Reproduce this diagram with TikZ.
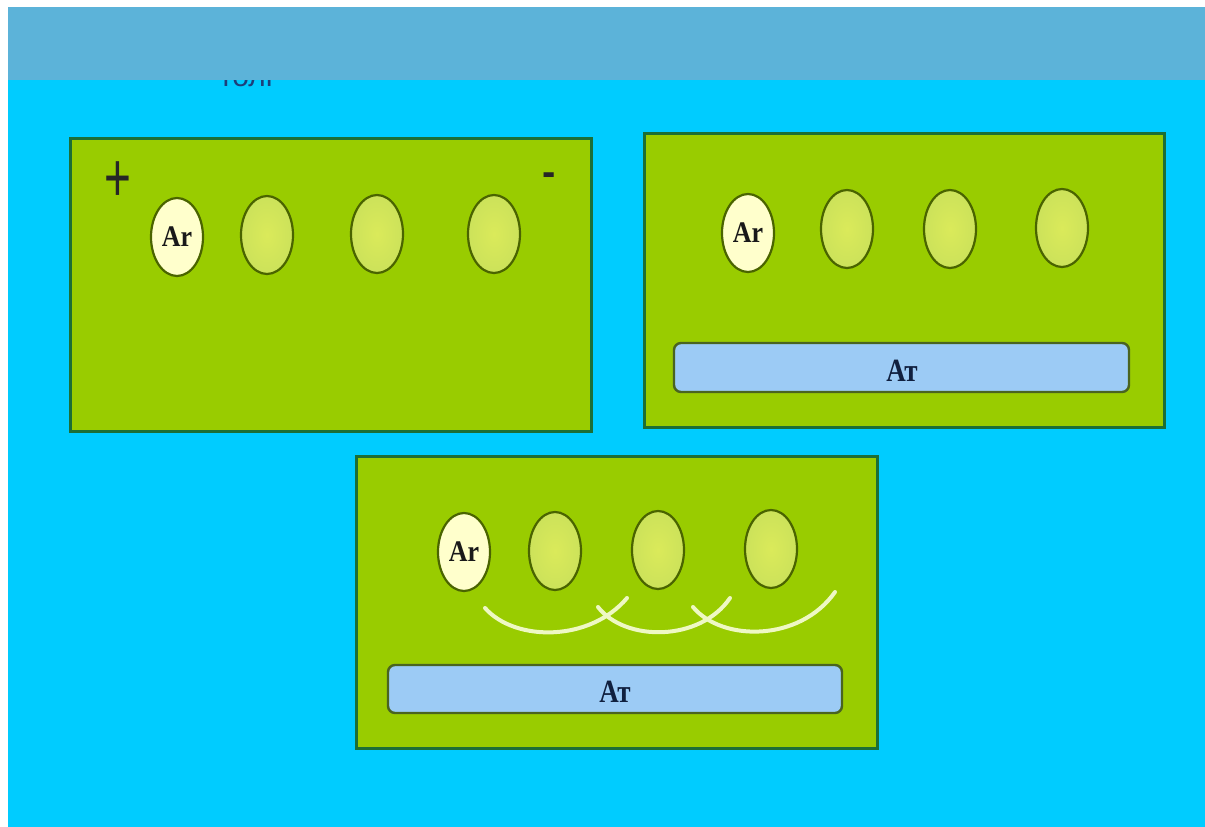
\documentclass[tikz,border=0pt]{standalone}
\usepackage{fontspec}
\setmainfont{Liberation Serif}
\newfontfamily\sansf{Liberation Sans}
\usetikzlibrary{shapes.geometric}
\definecolor{bgcyan}{HTML}{00CCFF}
\definecolor{bandblue}{HTML}{5CB3D9}
\definecolor{panelgreen}{HTML}{99CC00}
\definecolor{paneledge}{HTML}{1C6E36}
\definecolor{ovalfill}{HTML}{CCE25A}
\definecolor{ovaledge}{HTML}{4A6400}
\definecolor{arfill}{HTML}{FFFFCC}
\definecolor{barfill}{HTML}{9CCBF5}
\definecolor{baredge}{HTML}{4A6420}
\definecolor{navytxt}{HTML}{10203F}
\definecolor{arccol}{HTML}{EEF8C4}
\definecolor{titletxt}{HTML}{1D3F7A}
\tikzset{
  panel/.style={fill=panelgreen, draw=paneledge, line width=3pt},
  oval/.style={ellipse, draw=ovaledge, line width=2.2pt, inner color=ovalfill!80!yellow!90!white, outer color=ovalfill, minimum width=52pt, minimum height=78pt, inner sep=0pt},
  arov/.style={oval, inner color=arfill, outer color=arfill},
  artxt/.style={font=\fontsize{26}{30}\selectfont\bfseries, text=black!90, yscale=1.15, inner sep=0pt},
  bar/.style={rectangle, rounded corners=7pt, draw=baredge, fill=barfill, line width=2.4pt, inner sep=0pt},
  bartxt/.style={font=\fontsize{27}{30}\selectfont\bfseries, text=navytxt, yscale=1.2},
  wave/.style={draw=arccol, line width=4pt, line cap=round}
}
\begin{document}
\begin{tikzpicture}[x=1pt,y=-1pt]
\useasboundingbox (0,0) rectangle (1205,827);
\fill[white] (0,0) rectangle (1205,827);
\fill[bgcyan] (8,7) rectangle (1205,827);
\node[font=\sansf\fontsize{30}{32}\selectfont, text=titletxt, anchor=center] (title) at (248,79) {толг};
\fill[bandblue] (8,7) rectangle (1205,80);
% panel 1
\draw[panel] (70,138) rectangle (591,431);
\node[font=\sansf\fontsize{46}{48}\selectfont, text=black!85, yscale=1.5] (plus) at (118,182) {+};
\node[font=\sansf\bfseries\fontsize{40}{42}\selectfont, text=black!85] (minus) at (549,179) {-};
\node[arov] (a1) at (177,237) {};
\node[artxt] (a1t) at (a1) {Ar};
\node[oval] (b1) at (267,235) {};
\node[oval] (c1) at (377,234) {};
\node[oval] (d1) at (494,234) {};
% panel 2
\draw[panel] (644,133) rectangle (1164,427);
\node[arov] (a2) at (748,233) {};
\node[artxt] (a2t) at (a2) {Ar};
\node[oval] (b2) at (847,229) {};
\node[oval] (c2) at (950,229) {};
\node[oval] (d2) at (1062,228) {};
\node[bar, minimum width=455pt, minimum height=49pt] (bar2) at (901.5,367.5) {};
\node[bartxt] (t2) at (902,371) {Ат};
% panel 3
\draw[panel] (356,456) rectangle (877,748);
\node[arov] (a3) at (464,552) {};
\node[artxt] (a3t) at (a3) {Ar};
\node[oval] (b3) at (555,551) {};
\node[oval] (c3) at (658,550) {};
\node[oval] (d3) at (771,549) {};
\draw[wave] (485,608) .. controls (515,642) and (590,642) .. (627,598);
\draw[wave] (598,607) .. controls (625,642) and (700,642) .. (730,598);
\draw[wave] (693,607) .. controls (722,642) and (800,642) .. (835,592);
\node[bar, minimum width=454pt, minimum height=48pt] (bar3) at (615,689) {};
\node[bartxt] (t3) at (615,692) {Ат};
\end{tikzpicture}
\end{document}
